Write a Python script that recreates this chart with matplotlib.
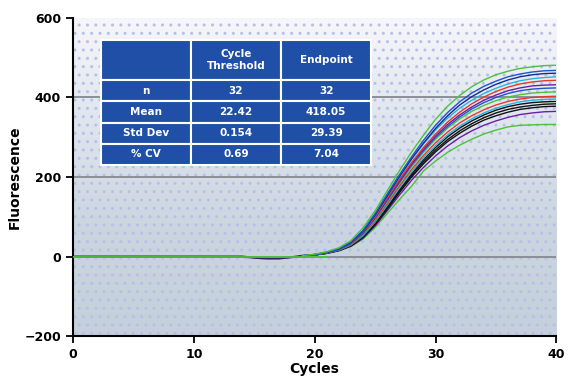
import matplotlib
matplotlib.use("Agg")
import matplotlib.pyplot as plt
import numpy as np
from matplotlib.patches import Rectangle
from matplotlib.colors import LinearSegmentedColormap

cycles = list(range(19, 41))
base_cycles = [0, 5, 10, 14, 15, 16, 17, 18, 19]
base_vals = [0, 0, 0, 0, -3, -5, -5, -2, 2]

curve_a = [2, 6, 12, 22, 40, 72, 115, 165, 215, 262, 305, 345, 378, 405, 427, 444, 457, 466, 473, 477, 480, 481]
curve_b = [2, 5, 11, 20, 37, 66, 108, 157, 205, 250, 292, 330, 362, 389, 411, 428, 441, 452, 459, 464, 467, 468]
curve_c = [2, 5, 10, 19, 35, 63, 104, 152, 200, 245, 285, 322, 354, 381, 402, 419, 433, 444, 452, 457, 460, 461]
curve_d = [2, 5, 10, 19, 35, 64, 105, 153, 200, 244, 283, 318, 348, 373, 393, 410, 423, 434, 442, 447, 450, 452]
curve_e = [2, 5, 10, 19, 34, 61, 100, 147, 193, 236, 274, 308, 338, 363, 384, 401, 415, 426, 434, 439, 442, 443]
curve_f = [2, 5, 10, 18, 33, 60, 98, 144, 189, 232, 270, 303, 332, 356, 376, 393, 406, 417, 424, 429, 431, 432]
curve_g = [2, 5, 10, 18, 32, 58, 96, 141, 186, 229, 266, 299, 327, 351, 371, 387, 400, 410, 417, 421, 423, 424]
curve_h = [2, 5, 10, 18, 31, 56, 93, 138, 183, 225, 262, 295, 323, 346, 365, 380, 392, 401, 407, 411, 413, 414]
curve_i = [2, 5, 9, 17, 30, 54, 90, 133, 177, 218, 254, 286, 313, 336, 354, 369, 381, 390, 396, 400, 402, 403]
curve_j = [2, 4, 9, 16, 29, 52, 87, 129, 172, 212, 248, 279, 306, 328, 346, 361, 373, 382, 389, 393, 395, 396]
curve_k = [2, 4, 9, 16, 28, 50, 84, 125, 167, 207, 243, 274, 301, 323, 341, 356, 368, 377, 383, 387, 389, 390]
curve_l = [2, 4, 9, 16, 28, 50, 83, 123, 164, 203, 238, 268, 294, 316, 334, 349, 361, 370, 376, 380, 383, 384]
curve_m = [2, 4, 8, 15, 27, 48, 80, 119, 160, 199, 233, 263, 289, 310, 328, 343, 354, 363, 370, 374, 377, 378]
curve_n = [2, 4, 8, 15, 26, 46, 77, 115, 154, 191, 224, 253, 278, 299, 316, 330, 341, 350, 357, 361, 364, 365]
curve_o = [2, 4, 8, 14, 25, 44, 73, 108, 143, 176, 215, 240, 262, 280, 295, 308, 318, 326, 330, 331, 332, 332]

curves = [curve_o, curve_n, curve_m, curve_l, curve_k, curve_j, curve_i, curve_h,
          curve_g, curve_f, curve_e, curve_d, curve_c, curve_b, curve_a]
colors = ["#4cc23a", "#6a1fa8", "#111111", "#111111", "#111111", "#22b5e0", "#e83828",
          "#4cc23a", "#1f55d0", "#6a1fa8", "#e83828", "#22b5e0", "#1a2a90", "#1f55d0", "#4cc23a"]

col_labels = ["", "Cycle\nThreshold", "Endpoint"]
row_names = ["n", "Mean", "Std Dev", "% CV"]
ct_stats = ["32", "22.42", "0.154", "0.69"]
ep_stats = ["32", "418.05", "29.39", "7.04"]

fig = plt.figure(figsize=(5.68, 3.89), dpi=100)
ax = fig.add_axes([0.1285, 0.136, 0.851, 0.818])
ax.set_xlim(0, 40)
ax.set_ylim(-200, 600)

# background gradient: light at top, blue-grey toward bottom
grad = np.linspace(0, 1, 256).reshape(-1, 1)
cmap = LinearSegmentedColormap.from_list("bg", ["#f6f7fa", "#dfe5ed", "#cad5df", "#c4d0db"])
ax.imshow(grad, extent=[0, 40, -200, 600], origin="upper", aspect="auto", cmap=cmap, zorder=0)
ax.add_patch(Rectangle((0, -200), 40, 800, facecolor="none", edgecolor="#b9bfe8",
                       hatch="..", linewidth=0, zorder=0.5))

for yv in [400, 200, 0]:
    ax.axhline(yv, color="#8a8f96", lw=1.4, zorder=1)

ax.plot(base_cycles, base_vals, color="#2a2a60", lw=1.5, zorder=2)
for vals, c in zip(curves, colors):
    ax.plot(cycles, vals, color=c, lw=1.0, zorder=3)
ax.plot([0, 21], [0, 0], color="#4cc23a", lw=1.3, zorder=4)

for s in ["top", "right"]:
    ax.spines[s].set_visible(False)
ax.spines["left"].set_linewidth(1.5)
ax.spines["bottom"].set_linewidth(1.5)
ax.set_xticks([0, 10, 20, 30, 40])
ax.set_yticks([-200, 0, 200, 400, 600])
ax.tick_params(direction="out", length=5, width=1.3, labelsize=9)
for lab in ax.get_xticklabels() + ax.get_yticklabels():
    lab.set_fontweight("bold")
ax.set_xlabel("Cycles", fontsize=10, fontweight="bold", labelpad=1)
ax.set_ylabel("Fluorescence", fontsize=10, fontweight="bold", labelpad=2)

cell_text = [[r, a, b] for r, a, b in zip(row_names, ct_stats, ep_stats)]
tbl = ax.table(cellText=cell_text, colLabels=col_labels,
               bbox=[0.057, 0.538, 0.56, 0.393], cellLoc="center", zorder=6)
tbl.auto_set_font_size(False)
tbl.set_fontsize(7.5)
for (r, c), cell in tbl.get_celld().items():
    cell.set_facecolor("#1f4fa6")
    cell.set_edgecolor("white")
    cell.set_linewidth(1.5)
    cell.get_text().set_color("white")
    cell.get_text().set_fontweight("bold")
    if r == 0:
        cell.set_height(cell.get_height() * 1.9)

fig.savefig("out.png", dpi=100)
